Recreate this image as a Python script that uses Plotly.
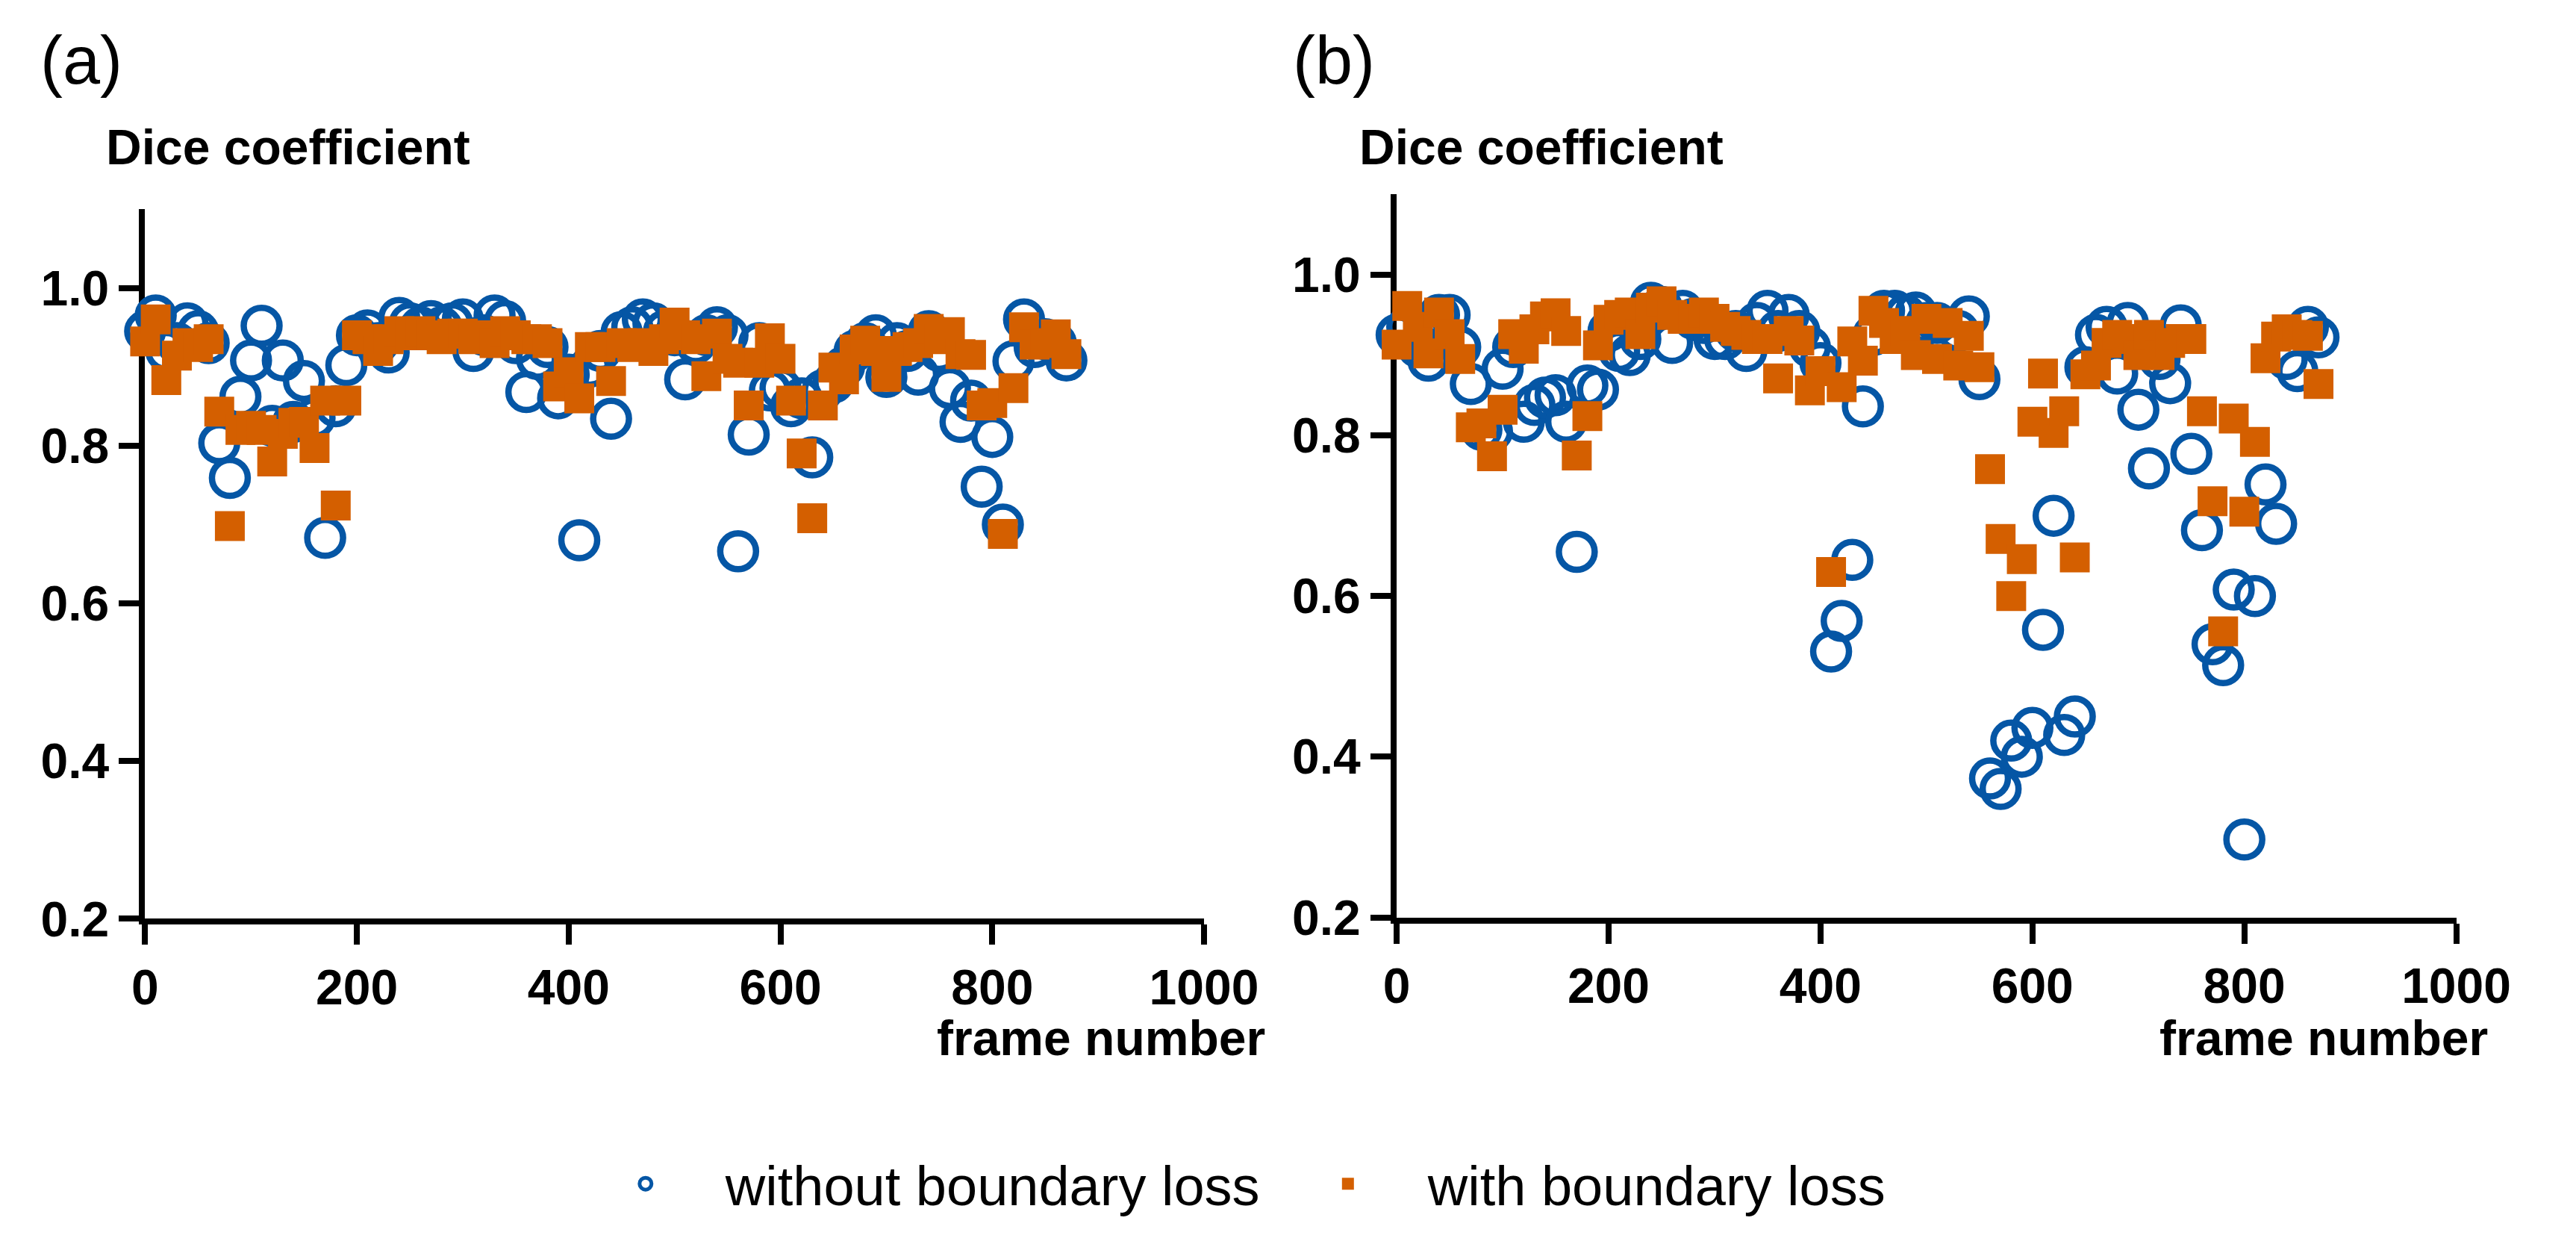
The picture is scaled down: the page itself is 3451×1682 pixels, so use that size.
import plotly.graph_objects as go

# frame numbers (same for both panels)
frames = [0, 10, 20, 30, 40, 50, 60, 70, 80, 90,
          100, 110, 120, 130, 140, 150, 160, 170, 180, 190,
          200, 210, 220, 230, 240, 250, 260, 270, 280, 290,
          300, 310, 320, 330, 340, 350, 360, 370, 380, 390,
          400, 410, 420, 430, 440, 450, 460, 470, 480, 490,
          500, 510, 520, 530, 540, 550, 560, 570, 580, 590,
          600, 610, 620, 630, 640, 650, 660, 670, 680, 690,
          700, 710, 720, 730, 740, 750, 760, 770, 780, 790,
          800, 810, 820, 830, 840, 850, 860, 870]

# (a) Dice coefficient
a_without = [0.945, 0.965, 0.92, 0.93, 0.955, 0.945, 0.93, 0.803, 0.759, 0.862,
             0.908, 0.952, 0.825, 0.908, 0.83, 0.882, 0.835, 0.683, 0.85, 0.902,
             0.94, 0.946, 0.93, 0.918, 0.962, 0.955, 0.95, 0.958, 0.95, 0.955,
             0.96, 0.92, 0.94, 0.965, 0.958, 0.93, 0.868, 0.91, 0.925, 0.86,
             0.89, 0.68, 0.90, 0.92, 0.834, 0.944, 0.95, 0.96, 0.955, 0.945,
             0.94, 0.884, 0.93, 0.94, 0.95, 0.94, 0.666, 0.814, 0.93, 0.87,
             0.873, 0.85, 0.86, 0.785, 0.87, 0.88, 0.9, 0.92, 0.93, 0.94,
             0.887, 0.93, 0.92, 0.89, 0.945, 0.92, 0.873, 0.83, 0.857, 0.748,
             0.811, 0.70, 0.907, 0.96, 0.925, 0.935, 0.93, 0.908]
a_with = [0.932, 0.96, 0.883, 0.914, 0.93, 0.925, 0.935, 0.843, 0.698, 0.82,
          0.825, 0.82, 0.78, 0.815, 0.829, 0.83, 0.797, 0.857, 0.724, 0.857,
          0.94, 0.935, 0.92, 0.935, 0.945, 0.94, 0.945, 0.94, 0.935, 0.942,
          0.942, 0.935, 0.94, 0.93, 0.945, 0.94, 0.935, 0.935, 0.93, 0.875,
          0.893, 0.86, 0.925, 0.925, 0.882, 0.93, 0.925, 0.93, 0.92, 0.935,
          0.956, 0.94, 0.935, 0.888, 0.942, 0.91, 0.905, 0.851, 0.905, 0.936,
          0.91, 0.857, 0.79, 0.708, 0.851, 0.899, 0.884, 0.922, 0.933, 0.92,
          0.887, 0.92, 0.925, 0.93, 0.948, 0.935, 0.944, 0.916, 0.915, 0.851,
          0.854, 0.688, 0.873, 0.95, 0.928, 0.93, 0.941, 0.916]

# (b) Dice coefficient
b_without = [0.925, 0.935, 0.91, 0.893, 0.95, 0.95, 0.91, 0.864, 0.807, 0.805,
             0.883, 0.91, 0.817, 0.838, 0.847, 0.85, 0.817, 0.655, 0.862, 0.857,
             0.93, 0.905, 0.9, 0.92, 0.965, 0.96, 0.915, 0.955, 0.945, 0.94,
             0.92, 0.92, 0.93, 0.905, 0.94, 0.955, 0.93, 0.95, 0.93, 0.91,
             0.89, 0.531, 0.569, 0.645, 0.836, 0.925, 0.955, 0.955, 0.95, 0.953,
             0.94, 0.94, 0.92, 0.93, 0.948, 0.87, 0.373, 0.36, 0.42, 0.40,
             0.436, 0.558, 0.70, 0.427, 0.45, 0.885, 0.925, 0.935, 0.877, 0.94,
             0.832, 0.759, 0.895, 0.865, 0.937, 0.777, 0.682, 0.54, 0.514, 0.608,
             0.297, 0.60, 0.739, 0.69, 0.895, 0.88, 0.935, 0.922]
b_with = [0.913, 0.961, 0.935, 0.902, 0.953, 0.926, 0.895, 0.81, 0.815, 0.774,
          0.832, 0.926, 0.908, 0.932, 0.948, 0.952, 0.93, 0.775, 0.824, 0.912,
          0.944, 0.95, 0.953, 0.926, 0.959, 0.967, 0.95, 0.945, 0.945, 0.953,
          0.945, 0.935, 0.93, 0.925, 0.92, 0.92, 0.871, 0.93, 0.918, 0.856,
          0.88, 0.63, 0.86, 0.917, 0.893, 0.955, 0.94, 0.92, 0.93, 0.90,
          0.945, 0.895, 0.94, 0.887, 0.924, 0.885, 0.758, 0.671, 0.60, 0.646,
          0.817, 0.877, 0.803, 0.83, 0.648, 0.876, 0.887, 0.915, 0.925, 0.92,
          0.90, 0.925, 0.90, 0.915, 0.92, 0.92, 0.83, 0.718, 0.556, 0.821,
          0.705, 0.792, 0.896, 0.923, 0.932, 0.925, 0.924, 0.864]

x_ticks = [0, 200, 400, 600, 800, 1000]
y_ticks = [0.2, 0.4, 0.6, 0.8, 1.0]
names = ["without boundary loss", "with boundary loss"]

BLUE = "#0556a5"
ORANGE = "#d45f00"
FONT = "Arial, Liberation Sans, sans-serif"

fig = go.Figure()

##############################################################
for i, (yo, yw) in enumerate([(a_without, a_with), (b_without, b_with)]):
    xa = "x" if i == 0 else "x2"
    ya = "y" if i == 0 else "y2"
    fig.add_trace(go.Scatter(x=frames, y=yo, mode="markers", name=names[0],
                             xaxis=xa, yaxis=ya, showlegend=(i == 0), cliponaxis=False,
                             marker=dict(symbol="circle-open", size=48, color=BLUE,
                                         line=dict(color=BLUE, width=8.5))))
    fig.add_trace(go.Scatter(x=frames, y=yw, mode="markers", name=names[1],
                             xaxis=xa, yaxis=ya, showlegend=(i == 0), cliponaxis=False,
                             marker=dict(symbol="square", size=40, color=ORANGE,
                                         line=dict(width=0))))

axis_common = dict(showline=True, linecolor="black", linewidth=8, ticks="outside",
                   ticklen=27, tickwidth=8, tickcolor="black", showgrid=False,
                   zeroline=False, layer="below traces",
                   tickfont=dict(family=FONT, size=66, color="black", weight="bold"))

fig.update_layout(
    width=3451, height=1682,
    margin=dict(l=0, r=0, t=0, b=0),
    paper_bgcolor="white", plot_bgcolor="white",
    xaxis=dict(domain=[0.05013, 0.47233], range=[0, 1000], tickvals=x_ticks, anchor="y", **axis_common),
    yaxis=dict(domain=[0.25684, 0.83472], range=[0.2, 1.1], tickvals=y_ticks, tickformat=".1f",
               anchor="x", **axis_common),
    xaxis2=dict(domain=[0.54912, 0.97160], range=[0, 1000], tickvals=x_ticks, anchor="y2", **axis_common),
    yaxis2=dict(domain=[0.25803, 0.84661], range=[0.2, 1.1], tickvals=y_ticks, tickformat=".1f",
                anchor="x2", **axis_common),
    legend=dict(orientation="h", x=0.2178, xanchor="left", y=0.041, yanchor="middle",
                font=dict(family=FONT, size=74, color="black"),
                entrywidth=722, entrywidthmode="pixels", itemwidth=204,
                bgcolor="rgba(0,0,0,0)"),
)

# panel labels, axis titles
for lab, xl, xt, xf in [("(a)", 0.0078, 0.0339, 0.4973), ("(b)", 0.5071, 0.5335, 0.9849)]:
    fig.add_annotation(text=lab, x=xl, y=0.9554, xref="paper", yref="paper",
                       xanchor="left", yanchor="middle", showarrow=False,
                       font=dict(family=FONT, size=90, color="black"))
    fig.add_annotation(text="Dice coefficient", x=xt, y=0.8853, xref="paper", yref="paper",
                       xanchor="left", yanchor="middle", showarrow=False,
                       font=dict(family=FONT, size=66, color="black", weight="bold"))
    fig.add_annotation(text="frame number", x=xf, y=0.1599, xref="paper", yref="paper",
                       xanchor="right", yanchor="middle", showarrow=False,
                       font=dict(family=FONT, size=66, color="black", weight="bold"))

fig.write_html("out.html")
